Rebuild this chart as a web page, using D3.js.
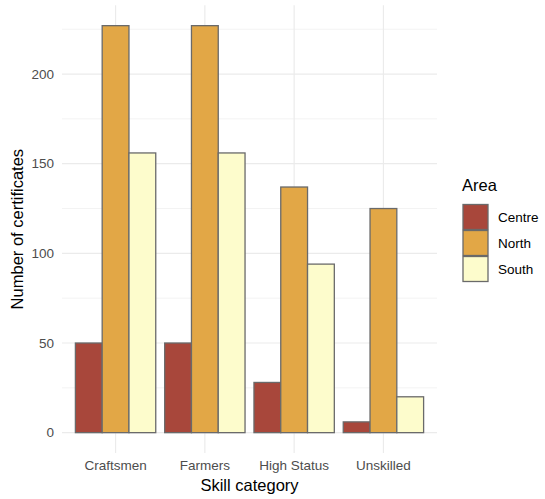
<!DOCTYPE html>
<html><head><meta charset="utf-8">
<script src="https://cdn.jsdelivr.net/npm/d3@7"></script>
<style>body{margin:0;background:#fff;} text{font-family:"Liberation Sans",Arial,sans-serif;}</style>
</head><body><svg id="c" width="545" height="499"></svg>
<script>
const categories = ["Craftsmen", "Farmers", "High Status", "Unskilled"];
const areas = ["Centre", "North", "South"];
const centre = [50, 50, 28, 6];
const north = [227, 227, 137, 125];
const south = [156, 156, 94, 20];
const yTicks = [0, 50, 100, 150, 200];
const yMinor = [25, 75, 125, 175, 225];
const colors = ["#a8473b", "#e2a746", "#fdfccc"];

const series = [centre, north, south];
const svg = d3.select("#c");
const panel = {left: 62, right: 437, top: 5.3, bottom: 453};
const ymax = d3.max(series.flat());
const y = d3.scaleLinear().domain([-0.05*ymax, 1.05*ymax]).range([panel.bottom, panel.top]);
const unit = (panel.right - panel.left) / 4.2;
const x = d3.scalePoint().domain(categories).range([panel.left + 0.6*unit, panel.right - 0.6*unit]);
const sub = d3.scaleBand().domain(areas).range([-0.45*unit, 0.45*unit]);

const g = svg.append("g");
yMinor.forEach(v => g.append("line").attr("x1", panel.left).attr("x2", panel.right)
  .attr("y1", y(v)).attr("y2", y(v)).attr("stroke", "#f3f3f3").attr("stroke-width", 1));
yTicks.forEach(v => g.append("line").attr("x1", panel.left).attr("x2", panel.right)
  .attr("y1", y(v)).attr("y2", y(v)).attr("stroke", "#ebebeb").attr("stroke-width", 1.2));
categories.forEach(c => g.append("line").attr("x1", x(c)).attr("x2", x(c))
  .attr("y1", panel.top).attr("y2", panel.bottom).attr("stroke", "#ebebeb").attr("stroke-width", 1.2));

areas.forEach((a, i) => {
  g.selectAll(null).data(categories).enter().append("rect")
    .attr("x", c => x(c) + sub(a))
    .attr("width", sub.bandwidth())
    .attr("y", (c, j) => y(series[i][j]))
    .attr("height", (c, j) => y(0) - y(series[i][j]))
    .attr("fill", colors[i]).attr("stroke", "#6a6a6a").attr("stroke-width", 1.3);
});

yTicks.forEach(v => svg.append("text").attr("x", 54).attr("y", y(v)).attr("dy", "0.35em")
  .attr("text-anchor", "end").attr("font-size", 13.5).attr("fill", "#4d4d4d").text(v));
categories.forEach(c => svg.append("text").attr("x", x(c)).attr("y", 470)
  .attr("text-anchor", "middle").attr("font-size", 13.5).attr("fill", "#4d4d4d").text(c));

svg.append("text").attr("x", (panel.left + panel.right)/2).attr("y", 491)
  .attr("text-anchor", "middle").attr("font-size", 16.5).attr("fill", "#000").text("Skill category");
svg.append("text").attr("transform", `translate(23,${(panel.top+panel.bottom)/2}) rotate(-90)`)
  .attr("text-anchor", "middle").attr("font-size", 16.5).attr("fill", "#000").text("Number of certificates");

const lg = svg.append("g");
lg.append("text").attr("x", 462).attr("y", 191).attr("font-size", 16.5).attr("fill", "#000").text("Area");
areas.forEach((a, i) => {
  const ky = 204.5 + i * 26;
  lg.append("rect").attr("x", 463).attr("y", ky).attr("width", 25).attr("height", 25)
    .attr("fill", colors[i]).attr("stroke", "#6a6a6a").attr("stroke-width", 1.3);
  lg.append("text").attr("x", 498).attr("y", ky + 12.5).attr("dy", "0.35em")
    .attr("font-size", 13.5).attr("fill", "#000").text(a);
});
</script></body></html>
